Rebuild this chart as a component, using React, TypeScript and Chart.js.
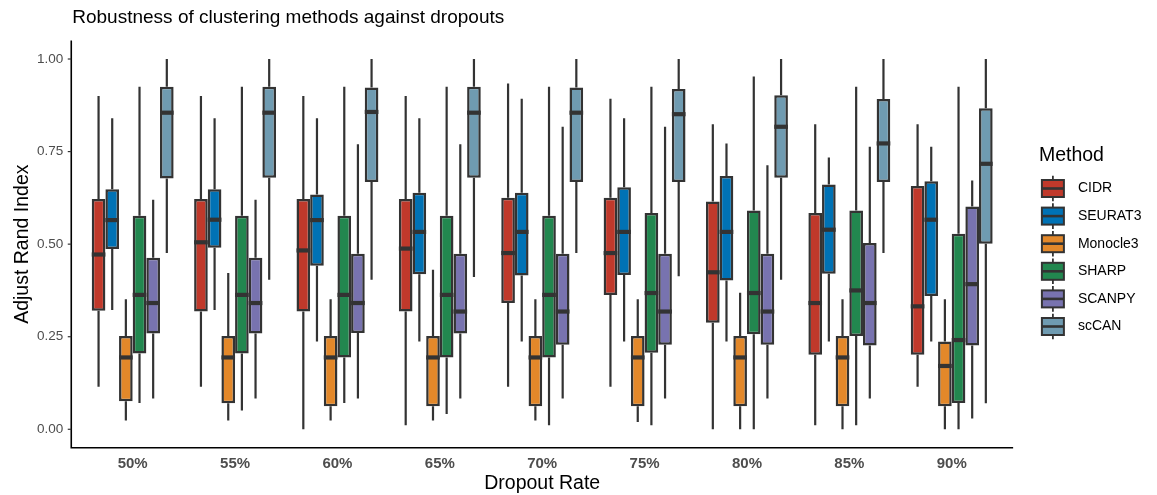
import React, { useEffect, useRef } from "react";
import { Chart, registerables } from "chart.js";

Chart.register(...registerables);

// ---------- data ----------
const categories = ["50%", "55%", "60%", "65%", "70%", "75%", "80%", "85%", "90%"];
const methods = ["CIDR", "SEURAT3", "Monocle3", "SHARP", "SCANPY", "scCAN"];
const methodColors = ["#C0392B", "#0072B5", "#E3882A", "#22874F", "#7873AF", "#6F9BB1"];
const yTicks = [0, 0.25, 0.5, 0.75, 1.0];
const chartTitle = "Robustness of clustering methods against dropouts";
const xTitle = "Dropout Rate";
const yTitle = "Adjust Rand Index";
const legendTitle = "Method";

// [min, q1, median, q3, max] for each dropout rate
const CIDR = [
  [0.115, 0.320, 0.472, 0.622, 0.900],
  [0.115, 0.318, 0.505, 0.622, 0.900],
  [0.000, 0.318, 0.483, 0.622, 0.900],
  [0.011, 0.318, 0.488, 0.622, 0.900],
  [0.115, 0.341, 0.476, 0.625, 0.934],
  [0.115, 0.363, 0.476, 0.625, 0.893],
  [0.000, 0.288, 0.424, 0.615, 0.824],
  [0.011, 0.201, 0.341, 0.584, 0.824],
  [0.115, 0.201, 0.332, 0.657, 0.824],
];
const SEURAT3 = [
  [0.322, 0.487, 0.565, 0.648, 0.840],
  [0.322, 0.490, 0.566, 0.648, 0.840],
  [0.237, 0.442, 0.565, 0.634, 0.840],
  [0.237, 0.419, 0.533, 0.639, 0.840],
  [0.237, 0.415, 0.533, 0.639, 0.893],
  [0.237, 0.417, 0.533, 0.654, 0.840],
  [0.237, 0.402, 0.533, 0.684, 0.772],
  [0.237, 0.420, 0.539, 0.661, 0.734],
  [0.237, 0.360, 0.566, 0.670, 0.763],
];
const Monocle3 = [
  [0.024, 0.076, 0.194, 0.252, 0.351],
  [0.024, 0.070, 0.194, 0.252, 0.422],
  [0.024, 0.062, 0.194, 0.252, 0.351],
  [0.024, 0.062, 0.194, 0.252, 0.431],
  [0.024, 0.062, 0.194, 0.252, 0.351],
  [0.020, 0.062, 0.194, 0.252, 0.351],
  [0.000, 0.062, 0.194, 0.252, 0.369],
  [0.000, 0.062, 0.194, 0.252, 0.351],
  [0.000, 0.062, 0.171, 0.237, 0.351],
];
const SHARP = [
  [0.071, 0.205, 0.363, 0.577, 0.925],
  [0.051, 0.205, 0.363, 0.577, 0.925],
  [0.071, 0.194, 0.363, 0.577, 0.925],
  [0.041, 0.194, 0.363, 0.577, 0.925],
  [0.011, 0.194, 0.363, 0.577, 0.925],
  [0.011, 0.207, 0.368, 0.584, 0.925],
  [0.000, 0.257, 0.368, 0.591, 0.953],
  [0.011, 0.252, 0.375, 0.591, 0.925],
  [0.000, 0.071, 0.241, 0.528, 0.925],
];
const SCANPY = [
  [0.083, 0.259, 0.341, 0.463, 0.620],
  [0.083, 0.259, 0.341, 0.463, 0.620],
  [0.083, 0.260, 0.341, 0.474, 0.770],
  [0.083, 0.259, 0.318, 0.474, 0.770],
  [0.083, 0.228, 0.318, 0.474, 0.817],
  [0.083, 0.228, 0.318, 0.474, 0.817],
  [0.083, 0.228, 0.318, 0.474, 0.713],
  [0.083, 0.226, 0.341, 0.503, 0.763],
  [0.029, 0.226, 0.392, 0.602, 0.672],
];
const scCAN = [
  [0.476, 0.677, 0.855, 0.925, 1.000],
  [0.404, 0.679, 0.855, 0.925, 1.000],
  [0.404, 0.668, 0.857, 0.923, 1.000],
  [0.411, 0.679, 0.855, 0.925, 1.000],
  [0.476, 0.668, 0.855, 0.923, 1.000],
  [0.413, 0.668, 0.851, 0.919, 1.000],
  [0.404, 0.679, 0.817, 0.902, 1.000],
  [0.476, 0.668, 0.772, 0.892, 1.000],
  [0.070, 0.501, 0.717, 0.867, 1.000],
];
const seriesStats = [CIDR, SEURAT3, Monocle3, SHARP, SCANPY, scCAN];

// ---------- styles ----------
const EDGE = "#333333";
const FONT = '"Liberation Sans", Arial, Helvetica, sans-serif';
const TICK_COLOR = "#4D4D4D";

function axisGeometry(chart: any) {
  const xs = chart.scales.x;
  const ys = chart.scales.y;
  const p0 = xs.getPixelForValue(0);
  const step = xs.getPixelForValue(1) - p0;
  const axisX = p0 - 0.6 * step;
  const axisRight = xs.getPixelForValue(categories.length - 1) + 0.6 * step;
  const axisBottom = ys.getPixelForValue(ys.min);
  const axisTop = ys.getPixelForValue(ys.max);
  return { axisX, axisRight, axisBottom, axisTop };
}

const boxPlugin = {
  id: "boxWhiskers",
  beforeDatasetsDraw(chart: any) {
    const ctx = chart.ctx;
    const ys = chart.scales.y;
    ctx.save();
    ctx.strokeStyle = EDGE;
    ctx.lineWidth = 2.2;
    chart.data.datasets.forEach((ds: any, di: number) => {
      const meta = chart.getDatasetMeta(di);
      meta.data.forEach((el: any, i: number) => {
        const s = ds.stats[i];
        const x = el.x;
        ctx.beginPath();
        ctx.moveTo(x, ys.getPixelForValue(s[4]));
        ctx.lineTo(x, ys.getPixelForValue(s[3]));
        ctx.moveTo(x, ys.getPixelForValue(s[1]));
        ctx.lineTo(x, ys.getPixelForValue(s[0]));
        ctx.stroke();
      });
    });
    ctx.restore();
  },
  afterDatasetsDraw(chart: any) {
    const ctx = chart.ctx;
    const ys = chart.scales.y;
    ctx.save();
    ctx.strokeStyle = EDGE;
    ctx.lineWidth = 4.2;
    chart.data.datasets.forEach((ds: any, di: number) => {
      const meta = chart.getDatasetMeta(di);
      meta.data.forEach((el: any, i: number) => {
        const s = ds.stats[i];
        const half = el.width / 2;
        const y = ys.getPixelForValue(s[2]);
        ctx.beginPath();
        ctx.moveTo(el.x - half, y);
        ctx.lineTo(el.x + half, y);
        ctx.stroke();
      });
    });
    ctx.restore();
  },
};

const framePlugin = {
  id: "frameTitleLegend",
  afterDraw(chart: any) {
    const ctx = chart.ctx;
    const ys = chart.scales.y;
    const { axisX, axisRight, axisBottom, axisTop } = axisGeometry(chart);
    ctx.save();
    // axis lines
    ctx.strokeStyle = "#000000";
    ctx.lineWidth = 1.6;
    ctx.beginPath();
    ctx.moveTo(axisX, axisTop);
    ctx.lineTo(axisX, axisBottom);
    ctx.lineTo(axisRight, axisBottom);
    ctx.stroke();
    // y tick marks
    ctx.strokeStyle = "#333333";
    ctx.lineWidth = 1.2;
    yTicks.forEach((v) => {
      const y = ys.getPixelForValue(v);
      ctx.beginPath();
      ctx.moveTo(axisX - 3.5, y);
      ctx.lineTo(axisX, y);
      ctx.stroke();
    });
    // title
    ctx.fillStyle = "#000000";
    ctx.font = `19px ${FONT}`;
    ctx.textAlign = "left";
    ctx.textBaseline = "middle";
    ctx.fillText(chartTitle, axisX + 1, 18);

    // legend
    const left = chart.chartArea.right + 36;
    ctx.font = `19.5px ${FONT}`;
    ctx.fillText(legendTitle, left, 156);
    const rowH = 27.6;
    const firstY = 188.5;
    const keyW = 22;
    const keyH = 17;
    methods.forEach((m, i) => {
      const cy = firstY + i * rowH;
      const cx = left + keyW / 2 + 3;
      // whisker
      ctx.strokeStyle = EDGE;
      ctx.lineWidth = 1.8;
      ctx.beginPath();
      ctx.moveTo(cx, cy - rowH / 2 + 1);
      ctx.lineTo(cx, cy + rowH / 2 - 1);
      ctx.stroke();
      // box
      ctx.fillStyle = methodColors[i];
      ctx.fillRect(cx - keyW / 2, cy - keyH / 2, keyW, keyH);
      ctx.lineWidth = 2;
      ctx.strokeRect(cx - keyW / 2, cy - keyH / 2, keyW, keyH);
      ctx.lineWidth = 2.6;
      ctx.beginPath();
      ctx.moveTo(cx - keyW / 2, cy);
      ctx.lineTo(cx + keyW / 2, cy);
      ctx.stroke();
      // label
      ctx.fillStyle = "#000000";
      ctx.font = `14px ${FONT}`;
      ctx.fillText(m, left + 39, cy);
    });
    ctx.restore();
  },
};

export default function App() {
  const canvasRef = useRef<HTMLCanvasElement | null>(null);

  useEffect(() => {
    document.body.style.margin = "0";
    const canvas = canvasRef.current;
    if (!canvas) return;
    const chart = new Chart(canvas, {
      type: "bar",
      data: {
        labels: categories,
        datasets: methods.map((m, i) => ({
          label: m,
          data: seriesStats[i].map((s) => [s[1], s[3]]),
          stats: seriesStats[i],
          backgroundColor: methodColors[i],
          borderColor: EDGE,
          borderWidth: 2.5,
          borderSkipped: false,
          categoryPercentage: 0.8,
          barPercentage: 1.0,
        })) as any,
      },
      options: {
        animation: false,
        responsive: false,
        devicePixelRatio: 1,
        events: [],
        layout: { padding: { top: 40.5, right: 154.1, bottom: 0, left: 0 } },
        plugins: {
          legend: { display: false },
          title: { display: false },
          tooltip: { enabled: false },
        },
        scales: {
          x: {
            type: "category",
            offset: true,
            grid: { display: false, drawTicks: false },
            border: { display: false },
            ticks: {
              color: TICK_COLOR,
              font: { family: FONT, size: 15, weight: "bold" },
              padding: 7.5,
            },
            title: {
              display: true,
              text: xTitle,
              color: "#000000",
              font: { family: FONT, size: 19.5 },
              padding: { top: 0, bottom: 0 },
            },
            afterFit: (scale: any) => {
              scale.height = 47.2;
            },
          },
          y: {
            type: "linear",
            min: -0.05,
            max: 1.05,
            grid: { display: false, drawTicks: false },
            border: { display: false },
            afterBuildTicks: (scale: any) => {
              scale.ticks = yTicks.map((v) => ({ value: v }));
            },
            ticks: {
              color: TICK_COLOR,
              font: { family: FONT, size: 13.5 },
              padding: 18.2,
              callback: (v: any) => Number(v).toFixed(2),
            },
            title: {
              display: true,
              text: yTitle,
              color: "#000000",
              font: { family: FONT, size: 19.5 },
              padding: { top: 10.8, bottom: 0 },
            },
            afterFit: (scale: any) => {
              scale.width = 81.5;
            },
          },
        },
      },
      plugins: [boxPlugin, framePlugin],
    } as any);
    return () => chart.destroy();
  }, []);

  return (
    <div style={{ position: "absolute", left: 0, top: 0, width: 1157, height: 495, background: "#ffffff" }}>
      <canvas ref={canvasRef} width={1157} height={495} style={{ display: "block" }} />
    </div>
  );
}
